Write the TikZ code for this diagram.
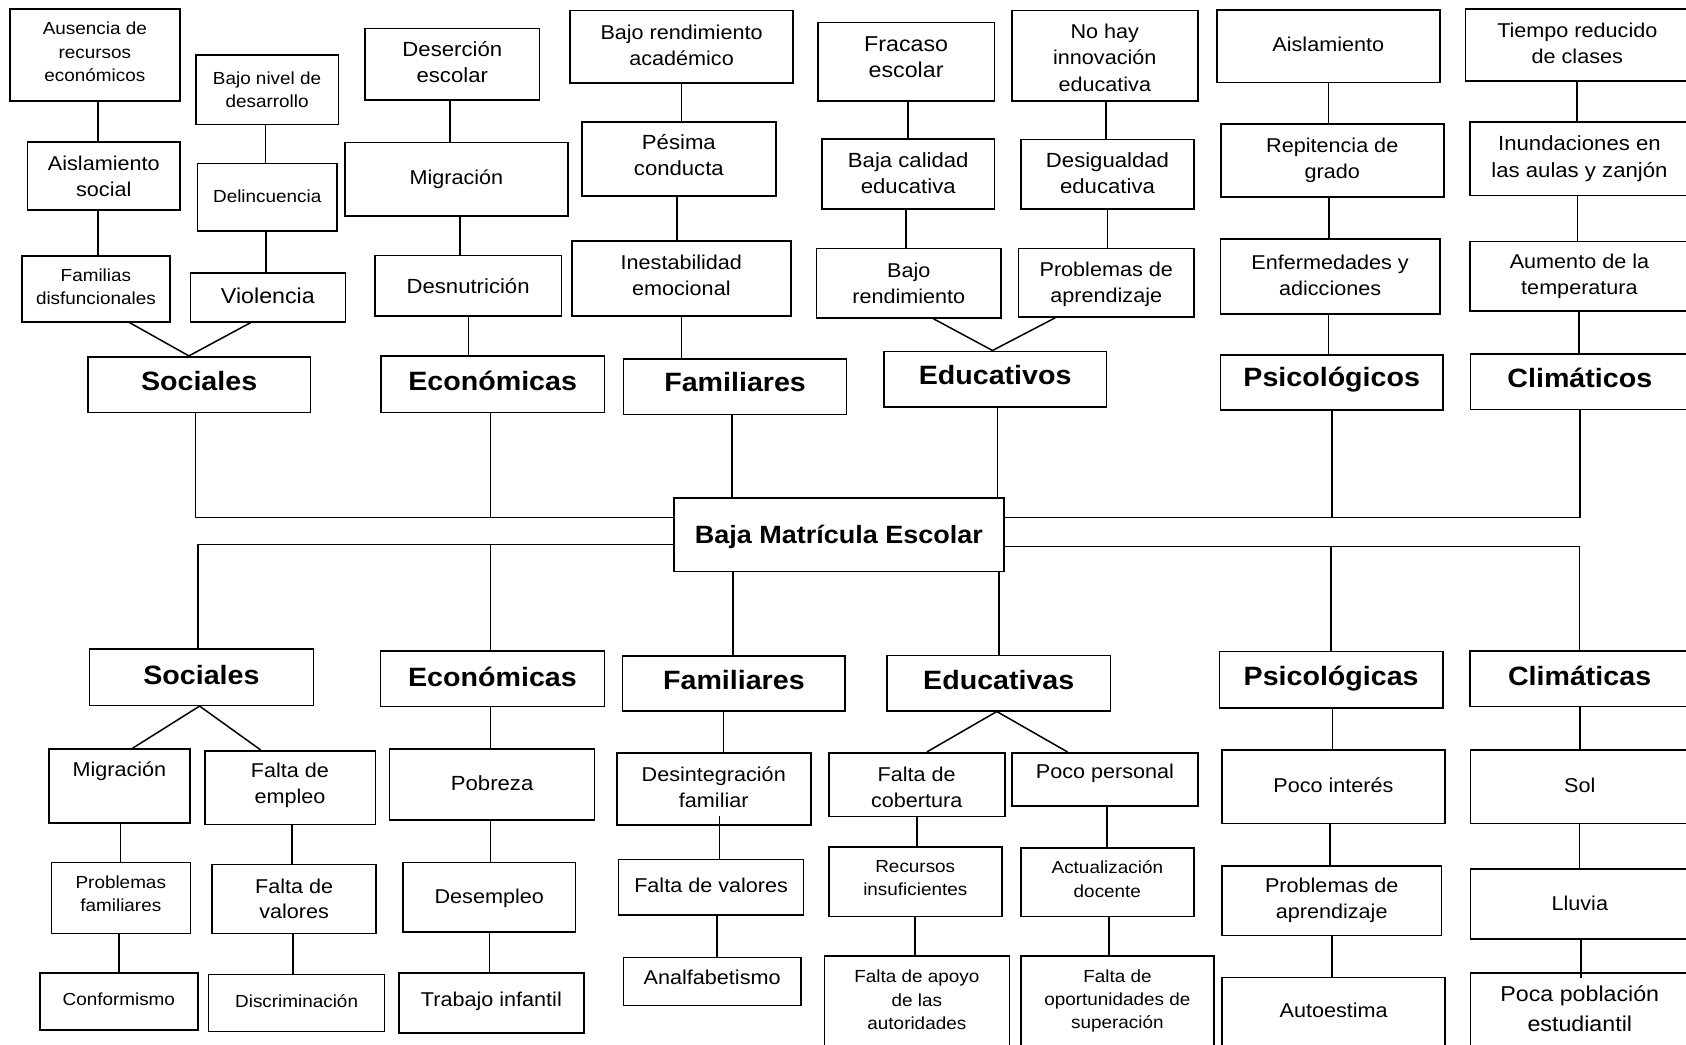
\documentclass[tikz,border=0pt]{standalone}
\usepackage{fontspec}
\setmainfont{Liberation Sans}[FakeStretch=1.08]
\newcommand\fS{\fontsize{17.5}{23.3}\selectfont}
\newcommand\fN{\fontsize{20}{25.8}\selectfont}
\newcommand\fNw{\fontsize{20}{26.5}\selectfont}
\newcommand\fM{\fontsize{20.5}{26}\selectfont}
\newcommand\fMw{\fontsize{20.5}{27}\selectfont}
\newcommand\fL{\fontsize{21.5}{25.5}\selectfont}
\newcommand\fLw{\fontsize{21.5}{30.5}\selectfont}
\newcommand\fB{\fontsize{26.5}{30}\selectfont\bfseries}
\newcommand\fT{\fontsize{25}{29}\selectfont\bfseries}
\tikzset{
  boxst/.style={draw, line width=1.6pt, inner sep=0pt},
  txtst/.style={align=center, inner sep=0pt},
  ln/.style={line width=1.5pt}
}
% #1 text shift, #2 name, #3 x1, #4 y1, #5 x2, #6 y2, #7 font, #8 text
\newcommand\mybx[8]{%
  \node[boxst, minimum width={(#5)-(#3)}, minimum height={(#6)-(#4)}] (#2) at ({((#3)+(#5))/2},{((#4)+(#6))/2}) {};
  \node[txtst, font=#7] (#2t) at ([yshift=#1pt]#2.center) {#8};}
\newcommand\vc[3]{\draw[ln] (#1.south -| #3,0) -- (#2.north -| #3,0);}
\begin{document}
\begin{tikzpicture}[x=1pt,y=-1pt]
\useasboundingbox (0,0) rectangle (1686,1044);
\clip (0,0) rectangle (1686,1044);
% ---------- top half ----------
\mybx{3}{aus}{9.7}{9}{180}{101}{\fS}{Ausencia de\\recursos\\económicos}
\mybx{0}{aisoc}{27.6}{142}{180}{210}{\fN}{Aislamiento\\social}
\mybx{2}{famdis}{21.9}{255.7}{169.9}{321.7}{\fS}{Familias\\disfuncionales}
\mybx{0}{bajoniv}{195.7}{55}{338.4}{124.3}{\fS}{Bajo nivel de\\desarrollo}
\mybx{1}{delinc}{197.5}{163.3}{337}{231}{\fS}{Delincuencia}
\mybx{2}{violen}{190.3}{273}{345.5}{321.7}{\fL}{Violencia}
\mybx{2}{desesc}{365.2}{28.3}{539.4}{100}{\fM}{Deserción\\escolar}
\mybx{0}{migtop}{345}{142.3}{567.8}{215.7}{\fN}{Migración}
\mybx{0}{desnut}{374.9}{255.3}{561.3}{316}{\fM}{Desnutrición}
\mybx{3}{soctop}{87.8}{356.7}{310.4}{412.3}{\fB}{Sociales}
\mybx{3}{ecotop}{381}{356}{604.3}{412.3}{\fB}{Económicas}
\mybx{1}{bajorend}{569.9}{10.3}{793.2}{82.7}{\fN}{Bajo rendimiento\\académico}
\mybx{4}{pesima}{581.7}{121.7}{776}{195.7}{\fM}{Pésima\\conducta}
\mybx{3.5}{inestab}{571.7}{241}{791}{316}{\fN}{Inestabilidad\\emocional}
\mybx{4}{famtop}{623.6}{358.7}{846.6}{414.3}{\fB}{Familiares}
\mybx{4.5}{fracaso}{817.9}{22.3}{994.3}{101}{\fL}{Fracaso\\escolar}
\mybx{-2}{nohay}{1011.8}{10.3}{1197.8}{101}{\fNw}{No hay\\innovación\\educativa}
\mybx{1}{bajacal}{821.9}{138.7}{994.6}{208.7}{\fM}{Baja calidad\\educativa}
\mybx{1}{desig}{1021.1}{139.3}{1193.9}{208.7}{\fM}{Desigualdad\\educativa}
\mybx{0}{bajorend2}{816.5}{248.3}{1001}{317.7}{\fN}{Bajo\\rendimiento}
\mybx{-1.5}{probap1}{1018.3}{248.3}{1194.2}{317}{\fNw}{Problemas de\\aprendizaje}
\mybx{4}{educativos}{883.9}{351.3}{1106.4}{407}{\fB}{Educativos}
\mybx{-2}{main}{673.8}{498}{1003.9}{571.3}{\fT}{Baja Matrícula Escolar}
\mybx{2}{aislam}{1216.8}{9.7}{1439.8}{82.3}{\fN}{Aislamiento}
\mybx{0}{repit}{1220.8}{123.7}{1443.7}{197}{\fNw}{Repitencia de\\grado}
\mybx{1}{enferm}{1220.4}{238.7}{1439.8}{314}{\fN}{Enfermedades y\\adicciones}
\mybx{3}{psictop}{1220.4}{354.7}{1443}{410}{\fB}{Psicológicos}
\mybx{2}{tiempo}{1465.6}{9}{1689}{81}{\fN}{Tiempo reducido\\de clases}
\mybx{0}{inund}{1469.9}{122}{1689}{195.3}{\fMw}{Inundaciones en\\las aulas y zanjón}
\mybx{0}{aument}{1469.9}{241.3}{1689}{311}{\fN}{Aumento de la\\temperatura}
\mybx{4}{climtop}{1470.6}{354}{1689}{409.3}{\fB}{Climáticos}
% ---------- bottom half ----------
\mybx{2.5}{socbot}{89.6}{649}{313.3}{705.3}{\fB}{Sociales}
\mybx{2}{ecobot}{380.6}{650.7}{604.3}{706.3}{\fB}{Económicas}
\mybx{15}{migbot}{48.7}{749}{190}{822.7}{\fN}{Migración}
\mybx{2}{faltemp}{204.7}{750.7}{375.3}{824.3}{\fN}{Falta de\\empleo}
\mybx{1}{pobreza}{389.6}{749}{594.6}{820}{\fM}{Pobreza}
\mybx{4}{probfam}{51.3}{862.3}{190.3}{933.3}{\fS}{Problemas\\familiares}
\mybx{0}{faltval1}{212.2}{864.3}{376}{933.3}{\fN}{Falta de\\valores}
\mybx{-1.5}{desemp}{403.2}{862.3}{575.3}{932}{\fN}{Desempleo}
\mybx{1.5}{conform}{39.8}{972.7}{197.8}{1029.7}{\fS}{Conformismo}
\mybx{1.5}{discrim}{208.6}{974.3}{384.6}{1031.3}{\fS}{Discriminación}
\mybx{1.5}{trabinf}{398.9}{973}{583.9}{1032.7}{\fN}{Trabajo infantil}
\mybx{3}{fambot}{622.6}{655.7}{845.2}{711}{\fB}{Familiares}
\mybx{3}{educbot}{887.1}{655.3}{1110.4}{710.7}{\fB}{Educativas}
\mybx{1.5}{desint}{616.8}{752.7}{810.7}{824.7}{\fN}{Desintegración\\familiar}
\mybx{2}{faltval2}{618.6}{859.3}{803.6}{915}{\fN}{Falta de valores}
\mybx{3.5}{analf}{623.3}{957.3}{801}{1005.3}{\fN}{Analfabetismo}
\mybx{-3}{faltcob}{828.7}{752.7}{1004.7}{816.3}{\fN}{Falta de\\cobertura}
\mybx{6}{pocopers}{1011.8}{752.7}{1198.2}{805.7}{\fN}{Poco personal}
\mybx{3.5}{recins}{828.7}{847}{1001.8}{916.3}{\fS}{Recursos\\insuficientes}
\mybx{3}{actdoc}{1020.8}{848}{1193.9}{916.3}{\fS}{Actualización\\docente}
\mybx{8}{faltapoyo}{824.4}{955.7}{1009.3}{1060}{\fS}{Falta de apoyo\\de las\\autoridades}
\mybx{7}{faltoport}{1020.8}{956}{1214}{1060}{\fS}{Falta de\\oportunidades de\\superación}
\mybx{1}{psicbot}{1219.3}{651.3}{1443}{707.7}{\fB}{Psicológicas}
\mybx{3}{climbot}{1470.2}{650.7}{1689}{706.3}{\fB}{Climáticas}
\mybx{1.5}{pocoint}{1221.8}{750}{1445.1}{823.3}{\fN}{Poco interés}
\mybx{1.5}{sol}{1470.6}{750}{1689}{823.3}{\fN}{Sol}
\mybx{0}{probap2}{1221.8}{865.7}{1441.6}{935.3}{\fN}{Problemas de\\aprendizaje}
\mybx{1}{lluvia}{1470.6}{869}{1689}{938.7}{\fN}{Lluvia}
\mybx{8.5}{autoest}{1222.2}{977.3}{1445.1}{1060}{\fN}{Autoestima}
\mybx{7.5}{pocapob}{1470.6}{972.7}{1689}{1060}{\fLw}{Poca población\\estudiantil}
% ---------- connectors, top half ----------
\vc{aus}{aisoc}{97.8}
\vc{aisoc}{famdis}{97.8}
\vc{bajoniv}{delinc}{265.6}
\vc{delinc}{violen}{266}
\vc{desesc}{migtop}{449.8}
\vc{migtop}{desnut}{459.9}
\vc{desnut}{ecotop}{468.5}
\vc{bajorend}{pesima}{681.4}
\vc{pesima}{inestab}{677}
\vc{inestab}{famtop}{681.4}
\vc{fracaso}{bajacal}{907.9}
\vc{bajacal}{bajorend2}{906.1}
\vc{nohay}{desig}{1106.1}
\vc{desig}{probap1}{1107.5}
\vc{aislam}{repit}{1328.3}
\vc{repit}{enferm}{1329}
\vc{enferm}{psictop}{1328.3}
\vc{tiempo}{inund}{1577}
\vc{inund}{aument}{1577.7}
\vc{aument}{climtop}{1578.8}
\draw[ln] (famdis.south -| 129.4,0) -- (soctop.north -| 188.9,0) -- (violen.south -| 250.9,0);
\draw[ln] (bajorend2.south -| 933,0) -- (educativos.north -| 992.5,0) -- (probap1.south -| 1055.2,0);
% upper bus
\coordinate (ubS) at (195.7,517.7);
\coordinate (ubE) at (490.7,517.7);
\coordinate (ubP) at (1331.9,517.7);
\coordinate (ubC) at (1579.9,517.7);
\draw[ln] (soctop.south -| ubS) -- (ubS) -- (main.west |- ubS);
\draw[ln] (ecotop.south -| ubE) -- (ubE);
\draw[ln] (famtop.south -| 732.2,0) -- (main.north -| 732.2,0);
\draw[ln] (educativos.south -| 997.5,0) -- (main.north -| 997.5,0);
\draw[ln] (main.east |- ubC) -- (ubC) -- (climtop.south -| ubC);
\draw[ln] (psictop.south -| ubP) -- (ubP);
% lower bus
\coordinate (lbS) at (198.2,544.7);
\coordinate (lbE) at (490.7,544.7);
\coordinate (lbP) at (1330.8,546.7);
\coordinate (lbC) at (1579.5,546.7);
\draw[ln] (main.west |- lbS) -- (lbS) -- (socbot.north -| lbS);
\draw[ln] (lbE) -- (ecobot.north -| lbE);
\draw[ln] (main.east |- lbC) -- (lbC) -- (climbot.north -| lbC);
\draw[ln] (lbP) -- (psicbot.north -| lbP);
\draw[ln] (main.south -| 733,0) -- (fambot.north -| 733,0);
\draw[ln] (main.south -| 998.9,0) -- (educbot.north -| 998.9,0);
% ---------- connectors, bottom half ----------
\draw[ln] (migbot.north -| 132.6,0) -- (socbot.south -| 199.6,0) -- (faltemp.north -| 260.6,0);
\draw[ln] (faltcob.north -| 926.9,0) -- (educbot.south -| 996.8,0) -- (pocopers.north -| 1067.4,0);
\vc{ecobot}{pobreza}{490.7}
\vc{pobreza}{desemp}{490.7}
\vc{desemp}{trabinf}{489.6}
\vc{migbot}{probfam}{120.4}
\vc{faltemp}{faltval1}{292.1}
\vc{probfam}{conform}{119}
\vc{faltval1}{discrim}{292.8}
\vc{fambot}{desint}{723.3}
\draw[ln] (desint.south -| 719.7,0) ++(0,-9.4) -- (faltval2.north -| 719.7,0);
\vc{faltval2}{analf}{717.2}
\vc{faltcob}{recins}{916.8}
\vc{recins}{faltapoyo}{915}
\vc{pocopers}{actdoc}{1107.2}
\vc{actdoc}{faltoport}{1109}
\vc{psicbot}{pocoint}{1332.6}
\vc{pocoint}{probap2}{1330.1}
\vc{probap2}{autoest}{1331.9}
\vc{climbot}{sol}{1579.9}
\vc{sol}{lluvia}{1579.5}
\draw[ln] (pocapob.north -| 1581,0) ++(0,6) -- (lluvia.south -| 1581,0);
\end{tikzpicture}
\end{document}
